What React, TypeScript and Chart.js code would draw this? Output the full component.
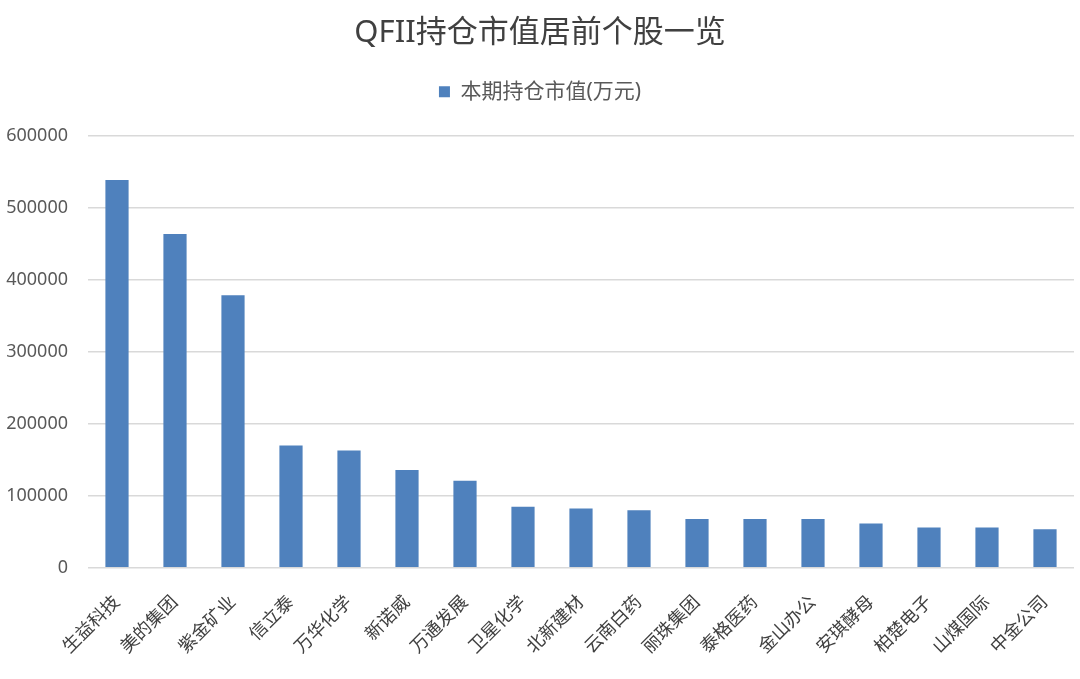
import { useEffect, useRef } from "react";
import { Chart, registerables } from "chart.js";

Chart.register(...registerables);

const stocks = [
  "生益科技", "美的集团", "紫金矿业", "信立泰", "万华化学", "新诺威", "万通发展", "卫星化学", "北新建材",
  "云南白药", "丽珠集团", "泰格医药", "金山办公", "安琪酵母", "柏楚电子", "山煤国际", "中金公司",
];
const holdingValue = [
  539000, 464000, 379000, 170000, 163000, 136000, 121000, 85000, 82500,
  80000, 68000, 68000, 68000, 61500, 56000, 56000, 53500,
];
const seriesName = "本期持仓市值(万元)";
const chartTitle = "QFII持仓市值居前个股一览";

const FONT = "'Noto Sans', 'Noto Sans CJK SC', sans-serif";

// extra gap between legend and plot area
const legendMargin = {
  id: "legendMargin",
  beforeInit(chart: any) {
    const fit = chart.legend.fit;
    chart.legend.fit = function () {
      fit.bind(chart.legend)();
      this.height += 24;
    };
  },
};

export default function App() {
  const chartRef = useRef<HTMLCanvasElement>(null);
  const chartInstance = useRef<Chart | null>(null);

  useEffect(() => {
    document.body.style.margin = "0";
    if (!chartRef.current) return;
    if (chartInstance.current) chartInstance.current.destroy();

    const ctx = chartRef.current.getContext("2d");
    if (ctx) {
      chartInstance.current = new Chart(ctx, {
        type: "bar",
        data: {
          labels: stocks,
          datasets: [
            {
              label: seriesName,
              data: holdingValue,
              backgroundColor: "#4F81BD",
              borderWidth: 0,
              barPercentage: 0.4,
              categoryPercentage: 1,
            },
          ],
        },
        plugins: [legendMargin],
        options: {
          responsive: true,
          maintainAspectRatio: false,
          animation: false,
          layout: { padding: { top: 12, left: 6, right: 6, bottom: 5 } },
          plugins: {
            title: {
              display: true,
              text: chartTitle,
              color: "#404040",
              font: { family: FONT, size: 31, weight: "normal" },
              padding: { top: 3, bottom: 19 },
            },
            legend: {
              display: true,
              labels: {
                color: "#595959",
                font: { family: FONT, size: 21 },
                boxWidth: 11,
                boxHeight: 11,
                padding: 10,
              },
            },
            tooltip: { enabled: false },
          },
          scales: {
            x: {
              grid: { display: false },
              border: { display: false },
              afterFit: (scale: any) => {
                scale.paddingLeft = 0;
              },
              ticks: {
                autoSkip: false,
                minRotation: 45,
                maxRotation: 45,
                color: "#404040",
                font: { family: FONT, size: 18 },
                padding: 16,
              },
            },
            y: {
              min: 0,
              max: 600000,
              border: { display: false },
              grid: { color: "#d9d9d9", lineWidth: 1.5, drawTicks: false },
              afterFit: (scale: any) => {
                scale.width = 82;
              },
              ticks: {
                stepSize: 100000,
                color: "#595959",
                font: { family: FONT, size: 18 },
                padding: 20,
                callback: (v) => String(v),
              },
            },
          },
        },
      });
    }

    return () => {
      if (chartInstance.current) {
        chartInstance.current.destroy();
        chartInstance.current = null;
      }
    };
  }, []);

  return (
    <div style={{ width: 1080, height: 679, position: "relative", background: "#fff" }}>
      <canvas ref={chartRef}></canvas>
    </div>
  );
}
